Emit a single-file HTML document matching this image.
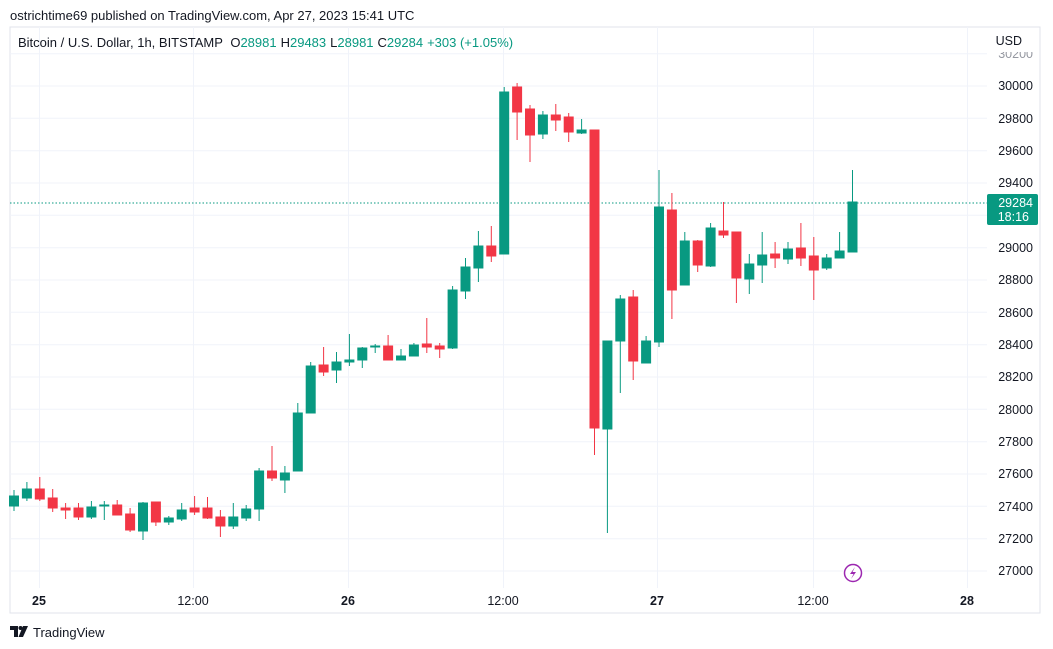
<!DOCTYPE html>
<html><head><meta charset="utf-8"><style>
body{margin:0;background:#fff;}
svg{display:block;font-family:"Liberation Sans",sans-serif;}
</style></head><body>
<svg width="1053" height="649" viewBox="0 0 1053 649" xmlns="http://www.w3.org/2000/svg">
<rect width="1053" height="649" fill="#fff"/>
<text x="10" y="20" font-size="13" fill="#131722">ostrichtime69 published on TradingView.com, Apr 27, 2023 15:41 UTC</text>
<rect x="10" y="27" width="1030" height="586" fill="none" stroke="#e0e3eb" stroke-width="1"/>
<g stroke="#f0f3fa" stroke-width="1">
<line x1="10" x2="987" y1="53.7" y2="53.7"/><line x1="10" x2="987" y1="86" y2="86"/><line x1="10" x2="987" y1="118.3" y2="118.3"/><line x1="10" x2="987" y1="150.7" y2="150.7"/><line x1="10" x2="987" y1="183" y2="183"/><line x1="10" x2="987" y1="215.3" y2="215.3"/><line x1="10" x2="987" y1="247.7" y2="247.7"/><line x1="10" x2="987" y1="280" y2="280"/><line x1="10" x2="987" y1="312.3" y2="312.3"/><line x1="10" x2="987" y1="344.7" y2="344.7"/><line x1="10" x2="987" y1="377" y2="377"/><line x1="10" x2="987" y1="409.3" y2="409.3"/><line x1="10" x2="987" y1="441.7" y2="441.7"/><line x1="10" x2="987" y1="474" y2="474"/><line x1="10" x2="987" y1="506.3" y2="506.3"/><line x1="10" x2="987" y1="538.7" y2="538.7"/><line x1="10" x2="987" y1="571" y2="571"/>
<line x1="39.5" x2="39.5" y1="27" y2="588"/><line x1="193.5" x2="193.5" y1="27" y2="588"/><line x1="348.5" x2="348.5" y1="27" y2="588"/><line x1="503.5" x2="503.5" y1="27" y2="588"/><line x1="657.5" x2="657.5" y1="27" y2="588"/><line x1="813.5" x2="813.5" y1="27" y2="588"/><line x1="967.5" x2="967.5" y1="27" y2="588"/>
</g>
<text x="18" y="47" font-size="13" fill="#131722">Bitcoin / U.S. Dollar, 1h, BITSTAMP <tspan dx="4">O</tspan><tspan fill="#089981">28981</tspan><tspan dx="4">H</tspan><tspan fill="#089981">29483</tspan><tspan dx="4">L</tspan><tspan fill="#089981">28981</tspan><tspan dx="4">C</tspan><tspan fill="#089981">29284</tspan><tspan dx="4" fill="#089981">+303 (+1.05%)</tspan></text>
<g font-size="12.5" fill="#131722" text-anchor="end">
<text x="1033" y="58" fill="#9598a1">30200</text>
<rect x="990" y="28" width="48" height="24" fill="#fff"/>
<text x="1022" y="45" text-anchor="end" font-size="12.5">USD</text>
<text x="1033" y="90">30000</text><text x="1033" y="123">29800</text><text x="1033" y="155">29600</text><text x="1033" y="187">29400</text><text x="1033" y="252">29000</text><text x="1033" y="284">28800</text><text x="1033" y="317">28600</text><text x="1033" y="349">28400</text><text x="1033" y="381">28200</text><text x="1033" y="414">28000</text><text x="1033" y="446">27800</text><text x="1033" y="478">27600</text><text x="1033" y="511">27400</text><text x="1033" y="543">27200</text><text x="1033" y="575">27000</text>
</g>
<line x1="10" x2="987" y1="203" y2="203" stroke="#089981" stroke-width="1" stroke-dasharray="1.5,2"/>
<rect x="987" y="194" width="51" height="31" rx="2" fill="#089981"/>
<text x="1033" y="207" font-size="12.5" fill="#fff" text-anchor="end">29284</text>
<text x="1029" y="221" font-size="12.5" fill="#fff" text-anchor="end">18:16</text>
<g font-size="12.5" fill="#131722" text-anchor="middle">
<text x="39" y="605" font-weight="bold">25</text><text x="193" y="605">12:00</text><text x="348" y="605" font-weight="bold">26</text><text x="503" y="605">12:00</text><text x="657" y="605" font-weight="bold">27</text><text x="813" y="605">12:00</text><text x="967" y="605" font-weight="bold">28</text>
</g>
<circle cx="853" cy="573" r="8.5" fill="#fff" stroke="#9c27b0" stroke-width="1.5"/>
<path d="M855 567 L850 574 L853.5 574 L851 579 L856 572 L852.5 572 Z" fill="#9c27b0"/>
<g stroke="#089981" fill="#089981" stroke-width="1">
<line x1="14" x2="14" y1="490" y2="511"/><rect x="9.5" y="496" width="9" height="10"/>
<line x1="26.9" x2="26.9" y1="482" y2="501"/><rect x="22.4" y="489" width="9" height="9"/>
<line x1="91.4" x2="91.4" y1="501" y2="519"/><rect x="86.9" y="507" width="9" height="10"/>
<line x1="104.3" x2="104.3" y1="501" y2="520"/><rect x="99.8" y="505" width="9" height="1"/>
<line x1="143" x2="143" y1="502" y2="540"/><rect x="138.5" y="503" width="9" height="28"/>
<line x1="168.8" x2="168.8" y1="516" y2="525"/><rect x="164.3" y="518" width="9" height="4"/>
<line x1="181.7" x2="181.7" y1="503" y2="521"/><rect x="177.2" y="510" width="9" height="9"/>
<line x1="233.3" x2="233.3" y1="503" y2="529"/><rect x="228.8" y="517" width="9" height="9"/>
<line x1="246.2" x2="246.2" y1="505" y2="521"/><rect x="241.7" y="509" width="9" height="9"/>
<line x1="259.1" x2="259.1" y1="468" y2="521"/><rect x="254.6" y="471" width="9" height="38"/>
<line x1="284.9" x2="284.9" y1="466" y2="493"/><rect x="280.4" y="473" width="9" height="7"/>
<line x1="297.8" x2="297.8" y1="403" y2="471"/><rect x="293.3" y="413" width="9" height="58"/>
<line x1="310.7" x2="310.7" y1="362" y2="413"/><rect x="306.2" y="366" width="9" height="47"/>
<line x1="336.5" x2="336.5" y1="352" y2="383"/><rect x="332" y="362" width="9" height="8"/>
<line x1="349.4" x2="349.4" y1="334" y2="366"/><rect x="344.9" y="360" width="9" height="2"/>
<line x1="362.3" x2="362.3" y1="347" y2="368"/><rect x="357.8" y="348" width="9" height="12"/>
<line x1="375.2" x2="375.2" y1="344" y2="353"/><rect x="370.7" y="346" width="9" height="1"/>
<line x1="401" x2="401" y1="349" y2="360"/><rect x="396.5" y="356" width="9" height="4"/>
<line x1="413.9" x2="413.9" y1="343" y2="356"/><rect x="409.4" y="345" width="9" height="11"/>
<line x1="452.6" x2="452.6" y1="286" y2="349"/><rect x="448.1" y="290" width="9" height="58"/>
<line x1="465.5" x2="465.5" y1="258" y2="299"/><rect x="461" y="267" width="9" height="24"/>
<line x1="478.4" x2="478.4" y1="231" y2="282"/><rect x="473.9" y="246" width="9" height="22"/>
<line x1="504.2" x2="504.2" y1="87" y2="254"/><rect x="499.7" y="92" width="9" height="162"/>
<line x1="542.9" x2="542.9" y1="111" y2="139"/><rect x="538.4" y="115" width="9" height="19"/>
<line x1="581.6" x2="581.6" y1="119" y2="134"/><rect x="577.1" y="130" width="9" height="3"/>
<line x1="607.4" x2="607.4" y1="341" y2="533"/><rect x="602.9" y="341" width="9" height="88"/>
<line x1="620.3" x2="620.3" y1="295" y2="393"/><rect x="615.8" y="299" width="9" height="42"/>
<line x1="646.1" x2="646.1" y1="336" y2="363"/><rect x="641.6" y="341" width="9" height="22"/>
<line x1="659" x2="659" y1="170" y2="347"/><rect x="654.5" y="207" width="9" height="135"/>
<line x1="684.8" x2="684.8" y1="232" y2="285"/><rect x="680.3" y="241" width="9" height="44"/>
<line x1="710.6" x2="710.6" y1="223" y2="267"/><rect x="706.1" y="228" width="9" height="38"/>
<line x1="749.3" x2="749.3" y1="254" y2="294"/><rect x="744.8" y="264" width="9" height="15"/>
<line x1="762.2" x2="762.2" y1="232" y2="283"/><rect x="757.7" y="255" width="9" height="10"/>
<line x1="788" x2="788" y1="242" y2="264"/><rect x="783.5" y="249" width="9" height="10"/>
<line x1="826.7" x2="826.7" y1="254" y2="270"/><rect x="822.2" y="258" width="9" height="10"/>
<line x1="839.6" x2="839.6" y1="232" y2="258"/><rect x="835.1" y="251" width="9" height="7"/>
<line x1="852.5" x2="852.5" y1="170" y2="252"/><rect x="848" y="202" width="9" height="50"/>
</g>
<g stroke="#f23645" fill="#f23645" stroke-width="1">
<line x1="39.8" x2="39.8" y1="477" y2="501"/><rect x="35.3" y="489" width="9" height="10"/>
<line x1="52.7" x2="52.7" y1="489" y2="512"/><rect x="48.2" y="498" width="9" height="10"/>
<line x1="65.6" x2="65.6" y1="503" y2="519"/><rect x="61.1" y="508" width="9" height="2"/>
<line x1="78.5" x2="78.5" y1="503" y2="520"/><rect x="74" y="508" width="9" height="9"/>
<line x1="117.2" x2="117.2" y1="500" y2="515"/><rect x="112.7" y="505" width="9" height="10"/>
<line x1="130.1" x2="130.1" y1="508" y2="532"/><rect x="125.6" y="514" width="9" height="16"/>
<line x1="155.9" x2="155.9" y1="502" y2="526"/><rect x="151.4" y="502" width="9" height="20"/>
<line x1="194.6" x2="194.6" y1="496" y2="515"/><rect x="190.1" y="508" width="9" height="4"/>
<line x1="207.5" x2="207.5" y1="497" y2="519"/><rect x="203" y="508" width="9" height="10"/>
<line x1="220.4" x2="220.4" y1="510" y2="537"/><rect x="215.9" y="517" width="9" height="9"/>
<line x1="272" x2="272" y1="446" y2="481"/><rect x="267.5" y="471" width="9" height="7"/>
<line x1="323.6" x2="323.6" y1="347" y2="376"/><rect x="319.1" y="365" width="9" height="7"/>
<line x1="388.1" x2="388.1" y1="335" y2="360"/><rect x="383.6" y="346" width="9" height="14"/>
<line x1="426.8" x2="426.8" y1="318" y2="353"/><rect x="422.3" y="344" width="9" height="3"/>
<line x1="439.7" x2="439.7" y1="343" y2="358"/><rect x="435.2" y="346" width="9" height="3"/>
<line x1="491.3" x2="491.3" y1="226" y2="262"/><rect x="486.8" y="246" width="9" height="10"/>
<line x1="517.1" x2="517.1" y1="83" y2="140"/><rect x="512.6" y="87" width="9" height="25"/>
<line x1="530" x2="530" y1="105" y2="162"/><rect x="525.5" y="109" width="9" height="26"/>
<line x1="555.8" x2="555.8" y1="104" y2="131"/><rect x="551.3" y="115" width="9" height="5"/>
<line x1="568.7" x2="568.7" y1="113" y2="142"/><rect x="564.2" y="117" width="9" height="15"/>
<line x1="594.5" x2="594.5" y1="130" y2="455"/><rect x="590" y="130" width="9" height="298"/>
<line x1="633.2" x2="633.2" y1="290" y2="380"/><rect x="628.7" y="297" width="9" height="64"/>
<line x1="671.9" x2="671.9" y1="193" y2="319"/><rect x="667.4" y="210" width="9" height="80"/>
<line x1="697.7" x2="697.7" y1="240" y2="272"/><rect x="693.2" y="241" width="9" height="24"/>
<line x1="723.5" x2="723.5" y1="202" y2="238"/><rect x="719" y="231" width="9" height="4"/>
<line x1="736.4" x2="736.4" y1="232" y2="303"/><rect x="731.9" y="232" width="9" height="46"/>
<line x1="775.1" x2="775.1" y1="242" y2="268"/><rect x="770.6" y="254" width="9" height="4"/>
<line x1="800.9" x2="800.9" y1="223" y2="266"/><rect x="796.4" y="248" width="9" height="10"/>
<line x1="813.8" x2="813.8" y1="237" y2="300"/><rect x="809.3" y="256" width="9" height="14"/>
</g>
<g transform="translate(10,626)" fill="#131722">
<path d="M0 0 H8 V11 H4 V4 H0 Z"/><circle cx="10.5" cy="2" r="2"/><path d="M13 0 H18 L13 11 H8.5 Z"/>
</g>
<text x="33" y="637" font-size="13" fill="#131722">TradingView</text>
</svg>
</body></html>
